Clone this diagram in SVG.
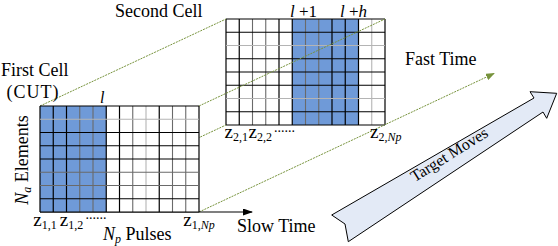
<svg xmlns="http://www.w3.org/2000/svg" width="558" height="246" viewBox="0 0 558 246" font-family="'Liberation Serif', 'DejaVu Serif', serif">
<defs>
<style>
text{font-family:'Liberation Serif','DejaVu Serif',serif;fill:#000}
.t18{font-size:18px}
.z{font-size:19px}
.sub{font-size:12px}
.it{font-style:italic}
.k{stroke:#000;stroke-width:1.2}
.g{stroke:#6a6a6a;stroke-width:1.1}
.lg{stroke:#b4b4b4;stroke-width:1.1}
.blue{fill:#6F9AD8}
.conn{stroke:#77933C;stroke-width:1;stroke-dasharray:2 1;fill:none}
</style>
<marker id="gArrow" markerWidth="9" markerHeight="7" refX="8" refY="3.5" orient="auto" markerUnits="userSpaceOnUse">
<path d="M0,0 L9,3.5 L0,7 z" fill="#77933C"/>
</marker>
<marker id="kArrow" markerWidth="10" markerHeight="7" refX="9" refY="3.5" orient="auto" markerUnits="userSpaceOnUse">
<path d="M0,0 L10,3.5 L0,7 z" fill="#000"/>
</marker>
</defs>
<rect width="558" height="246" fill="#fff"/>

<g id="second-cell">
<rect x="226" y="19" width="159" height="106" fill="#fff"/>
<rect class="blue" x="292.25" y="19" width="66.25" height="106"/>
<line class="k" x1="226" y1="19" x2="226" y2="125"/>
<line class="k" x1="239.25" y1="19" x2="239.25" y2="125"/>
<line class="g" x1="252.5" y1="19" x2="252.5" y2="125"/>
<line class="g" x1="265.75" y1="19" x2="265.75" y2="125"/>
<line class="k" x1="279" y1="19" x2="279" y2="125"/>
<line class="k" x1="292.25" y1="19" x2="292.25" y2="125"/>
<line class="g" x1="305.5" y1="19" x2="305.5" y2="125"/>
<line class="g" x1="318.75" y1="19" x2="318.75" y2="125"/>
<line class="k" x1="332" y1="19" x2="332" y2="125"/>
<line class="k" x1="345.25" y1="19" x2="345.25" y2="125"/>
<line class="k" x1="358.5" y1="19" x2="358.5" y2="125"/>
<line class="lg" x1="371.75" y1="19" x2="371.75" y2="125"/>
<line class="k" x1="385" y1="19" x2="385" y2="125"/>
<line class="k" x1="226" y1="19" x2="385" y2="19"/>
<line class="k" x1="226" y1="32.25" x2="385" y2="32.25"/>
<line class="lg" x1="226" y1="45.5" x2="385" y2="45.5"/>
<line class="k" x1="226" y1="58.75" x2="385" y2="58.75"/>
<line class="k" x1="226" y1="72" x2="385" y2="72"/>
<line class="k" x1="226" y1="85.25" x2="385" y2="85.25"/>
<line class="lg" x1="226" y1="98.5" x2="385" y2="98.5"/>
<line class="k" x1="226" y1="111.75" x2="385" y2="111.75"/>
<line class="k" x1="226" y1="125" x2="385" y2="125"/>
</g>

<g id="connectors">
<line class="conn" x1="40" y1="106" x2="226" y2="19"/>
<line class="conn" x1="199" y1="106" x2="385" y2="19"/>
<line class="conn" x1="40" y1="212" x2="226" y2="125"/>
<line class="conn" x1="199" y1="212" x2="494" y2="73.5" marker-end="url(#gArrow)"/>
<line x1="40" y1="212" x2="252" y2="212" stroke="#000" stroke-width="1.2" marker-end="url(#kArrow)"/>
</g>

<g id="first-cell">
<rect x="40" y="106" width="159" height="106" fill="#fff"/>
<rect class="blue" x="40" y="106" width="66.25" height="106"/>
<line class="k" x1="40" y1="106" x2="40" y2="212"/>
<line class="k" x1="53.25" y1="106" x2="53.25" y2="212"/>
<line class="k" x1="66.5" y1="106" x2="66.5" y2="212"/>
<line class="g" x1="79.75" y1="106" x2="79.75" y2="212"/>
<line class="g" x1="93" y1="106" x2="93" y2="212"/>
<line class="k" x1="106.25" y1="106" x2="106.25" y2="212"/>
<line class="k" x1="119.5" y1="106" x2="119.5" y2="212"/>
<line class="g" x1="132.75" y1="106" x2="132.75" y2="212"/>
<line class="lg" x1="146" y1="106" x2="146" y2="212"/>
<line class="k" x1="159.25" y1="106" x2="159.25" y2="212"/>
<line class="g" x1="172.5" y1="106" x2="172.5" y2="212"/>
<line class="g" x1="185.75" y1="106" x2="185.75" y2="212"/>
<line class="k" x1="199" y1="106" x2="199" y2="212"/>
<line class="k" x1="40" y1="106" x2="199" y2="106"/>
<line class="lg" x1="40" y1="119.25" x2="199" y2="119.25"/>
<line class="k" x1="40" y1="132.5" x2="199" y2="132.5"/>
<line class="k" x1="40" y1="145.75" x2="199" y2="145.75"/>
<line class="k" x1="40" y1="159" x2="199" y2="159"/>
<line class="g" x1="40" y1="172.25" x2="199" y2="172.25"/>
<line class="g" x1="40" y1="185.5" x2="199" y2="185.5"/>
<line class="k" x1="40" y1="198.75" x2="199" y2="198.75"/>
<line class="k" x1="40" y1="212" x2="199" y2="212"/>
</g>

<g id="target-moves">
<polygon points="331.7,215 534,98 530,91.7 556.7,93.3 546.7,118.3 543,112 348.3,241.7 345,224" fill="#E3EAF6" stroke="#000" stroke-width="1"/>
<text font-family="'Liberation Serif', 'DejaVu Serif', serif" font-size="16" transform="translate(452,159) rotate(-32)" text-anchor="middle">Target Moves</text>
</g>

<g id="labels" font-family="'Liberation Serif', 'DejaVu Serif', serif">
<text class="t18" x="115" y="16.5">Second Cell</text>
<text class="t18" x="1" y="76">First Cell</text>
<text class="t18" x="33" y="98" text-anchor="middle" letter-spacing="1">(CUT)</text>
<text class="it" font-size="16" x="100" y="103">l</text>
<text font-size="17" x="290" y="16.5"><tspan class="it">l</tspan> +1</text>
<text font-size="17" x="340" y="16.5"><tspan class="it">l</tspan> +<tspan class="it">h</tspan></text>
<text class="t18" x="405" y="65">Fast Time</text>
<text class="t18" x="237" y="231.5">Slow Time</text>
<text class="t18" x="103" y="239.5"><tspan class="it">N</tspan><tspan class="it" font-size="12" dy="3">p</tspan><tspan dy="-3"> Pulses</tspan></text>
<text class="t18" transform="translate(27.5,160) rotate(-90)" text-anchor="middle"><tspan class="it">N</tspan><tspan class="it" font-size="12" dy="3">a</tspan><tspan dy="-3"> Elements</tspan></text>
<text class="z" x="33.3" y="226">z<tspan class="sub" dy="2.5">1,1</tspan></text>
<text class="z" x="59.8" y="226">z<tspan class="sub" dy="2.5">1,2</tspan></text>
<text font-size="14" x="85.5" y="219">......</text>
<text class="z" x="183.3" y="226">z<tspan class="sub" dy="2.5">1,<tspan class="it">Np</tspan></tspan></text>
<text class="z" x="224.5" y="138">z<tspan class="sub" dy="2.5">2,1</tspan></text>
<text class="z" x="248.5" y="138">z<tspan class="sub" dy="2.5">2,2</tspan></text>
<text font-size="14" x="274" y="132">......</text>
<text class="z" x="370" y="138">z<tspan class="sub" dy="2.5">2,<tspan class="it">Np</tspan></tspan></text>
</g>
</svg>
